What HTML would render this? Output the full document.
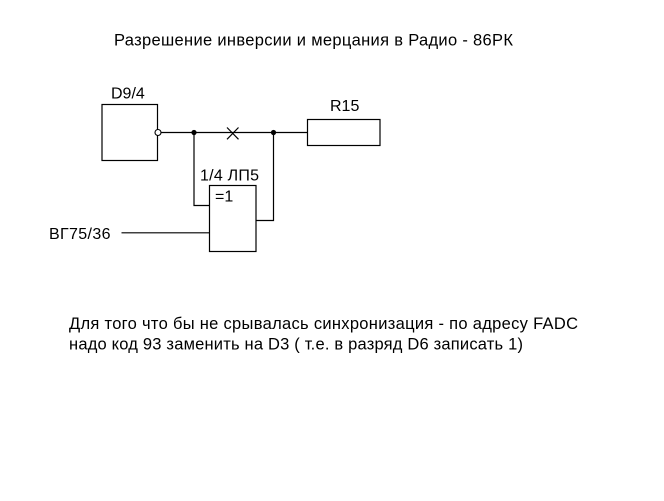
<!DOCTYPE html>
<html>
<head>
<meta charset="utf-8">
<style>
html,body{margin:0;padding:0;background:#fff;}
svg{display:block;}
text{font-family:"Liberation Sans","Noto Sans CJK SC",sans-serif;fill:#000;}
</style>
</head>
<body>
<svg width="664" height="501" viewBox="0 0 664 501" xmlns="http://www.w3.org/2000/svg">
<rect width="664" height="501" fill="#fff"/>
<text x="114" y="45.3" font-size="16.5" textLength="399" lengthAdjust="spacing">Разрешение инверсии и мерцания в Радио - 86РК</text>

<g fill="none" stroke="#000" stroke-width="1.2">
<!-- D9/4 -->
<rect x="102" y="104.5" width="55.5" height="56"/>
<!-- R15 -->
<rect x="307.5" y="119.5" width="72.5" height="26"/>
<!-- XOR -->
<rect x="209.5" y="185.5" width="46.5" height="66"/>
<!-- main wire -->
<line x1="160.5" y1="132.5" x2="307.5" y2="132.5"/>
<!-- left branch -->
<polyline points="194,132.5 194,205.5 209.5,205.5"/>
<!-- output feedback -->
<polyline points="256,220.5 273.5,220.5 273.5,132.5"/>
<!-- input -->
<line x1="121.5" y1="232.8" x2="209.5" y2="232.8"/>
<!-- X -->
<line x1="227" y1="127.5" x2="238.5" y2="139.3"/>
<line x1="238.5" y1="127.5" x2="227" y2="139.3"/>
</g>
<circle cx="158" cy="132.5" r="3" fill="#fff" stroke="#000" stroke-width="1.1"/>
<circle cx="194" cy="132.5" r="2.6" fill="#000"/>
<circle cx="273.5" cy="132.5" r="2.6" fill="#000"/>

<text x="111" y="98.3" font-size="16">D9/4</text>
<text x="330" y="111" font-size="16">R15</text>
<text x="200" y="180.7" font-size="16" textLength="59" lengthAdjust="spacing">1/4 ЛП5</text>
<text x="215" y="201.5" font-size="16">=1</text>
<text x="49" y="239" font-size="16" textLength="61.5" lengthAdjust="spacing">ВГ75/36</text>

<text x="69" y="329" font-size="16.5" textLength="509" lengthAdjust="spacing">Для того что бы не срывалась синхронизация - по адресу FADC</text>
<text x="69" y="349.5" font-size="16.5" textLength="454" lengthAdjust="spacing">надо код 93 заменить на D3 ( т.е. в разряд D6 записать 1)</text>
</svg>
</body>
</html>
